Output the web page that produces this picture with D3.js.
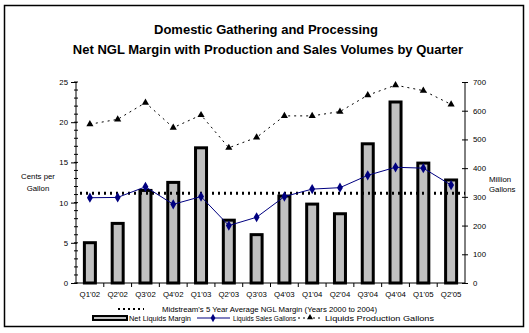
<!DOCTYPE html>
<html>
<head>
<meta charset="utf-8">
<script src="https://cdn.jsdelivr.net/npm/d3@7"></script>
<style>
  body { margin: 0; background: #fff; }
  svg text { font-family: "Liberation Sans", Arial, sans-serif; fill: #000; }
</style>
</head>
<body>
<div class="chart"></div>
<script>
var svgWidth = 529;
var svgHeight = 333;

// quarters and series
var quarters = ["Q1'02", "Q2'02", "Q3'02", "Q4'02", "Q1'03", "Q2'03", "Q3'03",
  "Q4'03", "Q1'04", "Q2'04", "Q3'04", "Q4'04", "Q1'05", "Q2'05"];
var netMargin = [5.2, 7.6, 11.7, 12.7, 17.0, 8.0, 6.2, 11.0, 10.0, 8.8, 17.5, 22.7, 15.1, 13.0];
var salesGallons = [297, 298, 335, 274, 301, 200, 229, 301, 327, 332, 375, 403, 400, 341];
var productionGallons = [553, 570, 628, 541, 585, 471, 507, 582, 582, 597, 654, 689, 670, 622];
var avgMargin = 11.15;

var leftTicks = [0, 5, 10, 15, 20, 25];
var rightTicks = [0, 100, 200, 300, 400, 500, 600, 700];

var margin = { top: 82, right: 64, bottom: 50, left: 76 };
var width = svgWidth - margin.left - margin.right;
var height = svgHeight - margin.top - margin.bottom;
var smallFont = "7.8px";

var svg = d3.select(".chart")
  .append("svg")
  .attr("width", svgWidth)
  .attr("height", svgHeight);

// outer frame
svg.append("rect")
  .attr("x", 4.5).attr("y", 5.5)
  .attr("width", 519).attr("height", 321)
  .attr("fill", "none")
  .attr("stroke", "#000")
  .attr("stroke-width", 1.5);

svg.append("text")
  .attr("x", 266).attr("y", 34)
  .attr("text-anchor", "middle")
  .style("font-size", "13px").style("font-weight", "bold")
  .text("Domestic Gathering and Processing");
svg.append("text")
  .attr("x", 268).attr("y", 54)
  .attr("text-anchor", "middle")
  .style("font-size", "13px").style("font-weight", "bold")
  .text("Net NGL Margin with Production and Sales Volumes by Quarter");

var chartGroup = svg.append("g")
  .attr("transform", `translate(${margin.left}, ${margin.top})`);

var xScale = d3.scaleBand()
  .domain(quarters)
  .range([0, width]);

var yLeft = d3.scaleLinear().domain([0, 25]).range([height, 0]);
var yRight = d3.scaleLinear().domain([0, 700]).range([height, 0]);

var cx = d => xScale(d) + xScale.bandwidth() / 2;

// bars
var barW = 11;
chartGroup.selectAll(".bar")
  .data(quarters)
  .enter()
  .append("rect")
  .attr("class", "bar")
  .attr("x", d => cx(d) - barW / 2)
  .attr("y", (d, i) => yLeft(netMargin[i]) + 1.5)
  .attr("width", barW)
  .attr("height", (d, i) => height - yLeft(netMargin[i]) - 1.5)
  .attr("fill", "#c0c0c0")
  .attr("stroke", "#000")
  .attr("stroke-width", 3);

// 5 year average line
chartGroup.append("line")
  .attr("x1", 4).attr("x2", width)
  .attr("y1", yLeft(avgMargin)).attr("y2", yLeft(avgMargin))
  .attr("stroke", "#000")
  .attr("stroke-width", 3)
  .attr("stroke-dasharray", "2,4");

// production volumes
var volLine = d3.line()
  .x((d, i) => cx(quarters[i]))
  .y(d => yRight(d));
chartGroup.append("path")
  .datum(productionGallons)
  .attr("d", volLine)
  .attr("fill", "none")
  .attr("stroke", "#000")
  .attr("stroke-width", 1)
  .attr("stroke-dasharray", "2,4");
chartGroup.selectAll(".tri")
  .data(productionGallons)
  .enter()
  .append("path")
  .attr("class", "tri")
  .attr("d", d3.symbol(d3.symbolTriangle, 22))
  .attr("transform", (d, i) => `translate(${cx(quarters[i])},${yRight(d)})`)
  .attr("fill", "#000");

// sales volumes
chartGroup.append("path")
  .datum(salesGallons)
  .attr("d", volLine)
  .attr("fill", "none")
  .attr("stroke", "#000080")
  .attr("stroke-width", 1);
chartGroup.selectAll(".dia")
  .data(salesGallons)
  .enter()
  .append("path")
  .attr("class", "dia")
  .attr("d", d3.symbol(d3.symbolDiamond, 30))
  .attr("transform", (d, i) => `translate(${cx(quarters[i])},${yRight(d)})`)
  .attr("fill", "#000080");

// left axis
var leftAxis = d3.axisLeft(yLeft).tickValues(leftTicks).tickSize(5).tickPadding(3);
var gl = chartGroup.append("g").call(leftAxis);
gl.selectAll(".tick line").attr("x2", -5).attr("x1", 1);
chartGroup.append("g").selectAll("line")
  .data(d3.range(0, 26))
  .enter().append("line")
  .attr("x1", -2).attr("x2", 2)
  .attr("y1", d => yLeft(d)).attr("y2", d => yLeft(d))
  .attr("stroke", "#000");

// right axis
var rightAxis = d3.axisRight(yRight).tickValues(rightTicks).tickSize(3).tickPadding(5);
var gr = chartGroup.append("g")
  .attr("transform", `translate(${width}, 0)`)
  .call(rightAxis);
gr.selectAll(".tick line").attr("x1", -3);

// bottom axis
var bottomAxis = d3.axisBottom(xScale).tickSize(0).tickPadding(8);
var gb = chartGroup.append("g")
  .attr("transform", `translate(0, ${height})`)
  .call(bottomAxis);
gb.append("g").selectAll("line")
  .data(quarters.slice(1))
  .enter().append("line")
  .attr("x1", d => xScale(d)).attr("x2", d => xScale(d))
  .attr("y1", 0).attr("y2", 4)
  .attr("stroke", "#000");

[gl, gr, gb].forEach(function(g) {
  g.select(".domain").attr("stroke", "#000").attr("stroke-width", 1);
  g.selectAll("text")
    .attr("fill", "#000")
    .style("font-family", "'Liberation Sans', Arial, sans-serif")
    .style("font-size", smallFont);
});
gl.select(".domain").attr("d", `M0,0V${height}`);
gr.select(".domain").attr("d", `M0,0V${height}`);
gb.select(".domain").attr("d", `M0,0H${width}`);

// axis titles
svg.append("text").attr("x", 38).attr("y", 179)
  .attr("text-anchor", "middle").style("font-size", smallFont).text("Cents per");
svg.append("text").attr("x", 38).attr("y", 191)
  .attr("text-anchor", "middle").style("font-size", smallFont).text("Gallon");
svg.append("text").attr("x", 489).attr("y", 182)
  .style("font-size", smallFont).text("Million");
svg.append("text").attr("x", 489).attr("y", 192)
  .style("font-size", smallFont).text("Gallons");

// legend
var legend = svg.append("g");
function legendText(x, y, len, label) {
  legend.append("text").attr("x", x).attr("y", y)
    .attr("textLength", len).attr("lengthAdjust", "spacingAndGlyphs")
    .style("font-size", smallFont).text(label);
}

legend.append("line")
  .attr("x1", 118).attr("x2", 144).attr("y1", 309).attr("y2", 309)
  .attr("stroke", "#000").attr("stroke-width", 2)
  .attr("stroke-dasharray", "2,3");
legendText(162, 311.5, 215, "Midstream's 5 Year Average NGL Margin  (Years 2000 to 2004)");

legend.append("rect")
  .attr("x", 93).attr("y", 316).attr("width", 34).attr("height", 4)
  .attr("fill", "#c0c0c0").attr("stroke", "#000").attr("stroke-width", 2);
legendText(129, 321, 62, "Net Liquids Margin");

legend.append("line")
  .attr("x1", 197).attr("x2", 230).attr("y1", 318).attr("y2", 318)
  .attr("stroke", "#000080").attr("stroke-width", 1);
legend.append("path")
  .attr("d", d3.symbol(d3.symbolDiamond, 20))
  .attr("transform", "translate(213,318)")
  .attr("fill", "#000080");
legendText(233, 321, 63, "Liquids Sales Gallons");

legend.append("line")
  .attr("x1", 298).attr("x2", 323).attr("y1", 318).attr("y2", 318)
  .attr("stroke", "#000").attr("stroke-width", 1)
  .attr("stroke-dasharray", "2,3");
legend.append("path")
  .attr("d", d3.symbol(d3.symbolTriangle, 16))
  .attr("transform", "translate(310,317.5)")
  .attr("fill", "#000");
legendText(325, 321, 109, "Liquids Production Gallons");
</script>
</body>
</html>
